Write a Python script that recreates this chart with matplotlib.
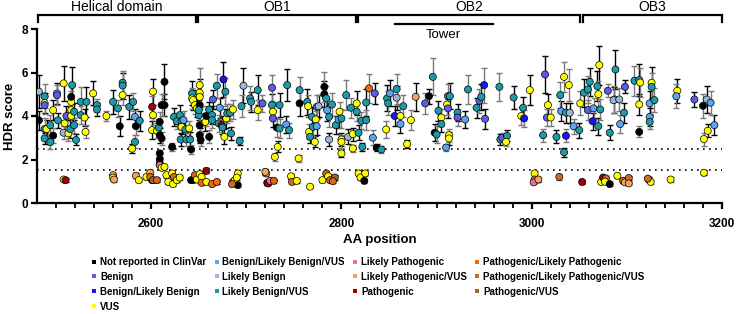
import numpy as np
import matplotlib
matplotlib.use('Agg')
from matplotlib import pyplot as plt
from matplotlib.lines import Line2D
import matplotlib.transforms as mtransforms

plt.rcParams['font.family'] = ['Liberation Sans', 'DejaVu Sans']

# variant classes: code -> (legend label, colour)
classes = ['NR', 'B', 'BLB', 'VUS', 'BLBV', 'LB', 'LBV', 'LP', 'LPV', 'P', 'PLP', 'PLPV', 'PV']
labels = ['Not reported in ClinVar', 'Benign', 'Benign/Likely Benign', 'VUS',
          'Benign/Likely Benign/VUS', 'Likely Benign', 'Likely Benign/VUS',
          'Likely Pathogenic', 'Likely Pathogenic/VUS', 'Pathogenic',
          'Pathogenic/Likely Pathogenic', 'Pathogenic/Likely Pathogenic/VUS', 'Pathogenic/VUS']
colors = ['#000000', '#5c5ce8', '#1414ff', '#ffff00',
          '#5aa5f0', '#9db4dc', '#1b9aaa',
          '#f06aa8', '#f5a55a', '#a50000',
          '#f5650f', '#d2691e', '#9c6a2e']

# domains along the top
domains = ['Helical domain', 'OB1', 'OB2', 'OB3']
domain_start = [2481, 2649, 2817, 3054]
domain_end = [2647, 2815, 3051, 3200]
tower = (2856, 2959)

# variants: AA position, HDR score, error, class
pos = [2482, 2488, 2488, 2488, 2482, 2488, 2488, 2494, 2490, 2494, 2497, 2497, 2501, 2501, 2502,
       2508, 2508, 2509, 2511, 2513, 2515, 2516, 2516, 2516, 2517, 2516, 2519, 2519, 2521, 2526,
       2532, 2526, 2530, 2531, 2539, 2543, 2543, 2553, 2560, 2565, 2567, 2570, 2570, 2570, 2577,
       2581, 2583, 2584, 2588, 2583, 2580,
       2508, 2510, 2560, 2560, 2561, 2584, 2587, 2595, 2599, 2601,
       2601, 2602, 2602, 2601, 2606, 2608, 2609, 2609, 2611, 2614, 2611, 2614, 2609, 2609, 2609,
       2609, 2611, 2614, 2622, 2624, 2627, 2630, 2632, 2632, 2634, 2631, 2637, 2641, 2642, 2636,
       2640, 2643, 2643, 2644, 2646, 2648, 2651, 2651, 2651, 2651, 2650, 2650, 2651, 2651, 2652,
       2657, 2658, 2661, 2661, 2664, 2664, 2665, 2669, 2672, 2671, 2674, 2675, 2676, 2678, 2679,
       2680, 2677, 2683, 2684, 2686, 2693, 2695, 2697, 2704, 2705, 2712, 2712, 2717,
       2599, 2602, 2606, 2616, 2622, 2624, 2618, 2623, 2627, 2630, 2642, 2644, 2646, 2648, 2651,
       2653, 2658, 2653, 2658, 2664, 2669, 2686, 2688, 2691, 2690, 2691, 2685, 2721, 2722,
       2727, 2727, 2728, 2728, 2732, 2735, 2735, 2733, 2730, 2742, 2745, 2743, 2755, 2756, 2756,
       2764, 2765, 2769, 2766, 2767, 2770, 2772, 2773, 2774, 2774, 2776, 2782, 2782, 2784, 2785,
       2787, 2787, 2790, 2794, 2798, 2797, 2800, 2800, 2800, 2800, 2805, 2807, 2810, 2812, 2812,
       2816, 2816, 2818, 2821, 2822, 2826, 2826, 2829, 2835, 2833, 2837, 2842,
       2720, 2723, 2725, 2729, 2747, 2748, 2753, 2767, 2780, 2784, 2786, 2788, 2793, 2791, 2818,
       2820, 2824, 2825,
       2848, 2849, 2851, 2847, 2856, 2858, 2858, 2862, 2862, 2865, 2869, 2873, 2878, 2888, 2892,
       2896, 2898, 2900, 2902, 2905, 2905, 2911, 2912, 2912, 2914, 2913, 2913, 2910, 2922, 2922,
       2930, 2933, 2942, 2945, 2947, 2950, 2951,
       2966, 2967, 2969, 2974, 2973, 2981, 2989, 2991, 2992, 2998, 3012, 3014, 3016, 3017, 3020,
       3026, 3030, 3031, 3034, 3036, 3036, 3034, 3039, 3040, 3044, 3050, 3051, 3055, 3059, 3061,
       3059, 3064, 3065, 3069, 3070, 3071, 3072, 3070, 3080, 3082, 3087, 3088,
       3003, 3003, 3002, 3007, 3029, 3053, 3073, 3075, 3078, 3077, 3082,
       3086, 3092, 3097, 3093, 3098, 3108, 3113, 3114, 3113, 3113, 3126, 3126, 3124, 3129, 3124,
       3124, 3153, 3152, 3171, 3180, 3184, 3188, 3185, 3181, 3192,
       3090, 3096, 3098, 3102, 3102, 3123, 3125, 3122, 3146, 3181]

hdr = [5.12, 4.90, 4.60, 4.50, 3.80, 3.40, 2.97, 2.80, 3.40, 3.58, 4.27, 3.10, 5.04, 4.96, 3.80,
       3.23, 5.50, 3.66, 4.00, 3.20, 3.40, 4.65, 4.27, 4.00, 5.42, 4.88, 4.20, 3.58, 2.90, 4.65,
       4.65, 4.04, 3.93, 3.27, 5.04, 4.50, 4.30, 4.00, 4.65, 4.35, 3.53, 5.53, 5.40, 4.96, 4.42,
       4.65, 3.96, 3.53, 3.78, 2.81, 2.50,
       1.08, 1.05, 1.28, 1.17, 1.08, 1.25, 1.05, 1.20, 1.39, 1.05,
       4.42, 5.12, 4.04, 3.35, 3.32, 3.47, 3.73, 3.12, 2.97, 5.57, 4.50, 4.50, 2.28, 2.00, 1.79,
       1.74, 1.62, 1.66, 2.58, 3.96, 3.76, 4.04, 3.76, 3.50, 3.81, 2.92, 2.92, 2.92, 2.46, 3.38,
       3.43, 5.04, 4.81, 4.73, 4.50, 4.35, 5.42, 5.07, 4.88, 4.50, 4.04, 4.27, 3.58, 3.12, 2.90,
       3.73, 4.00, 4.30, 3.04, 4.04, 3.81, 4.76, 5.39, 4.38, 3.66, 3.58, 3.47, 5.68, 5.12, 3.89,
       4.12, 3.04, 4.15, 3.20, 4.30, 2.85, 4.45, 5.39, 4.81, 4.65, 4.27, 5.19, 4.58,
       1.20, 1.05, 1.05, 1.28, 1.36, 1.20, 0.97, 0.87, 1.05, 1.17, 1.05, 1.05, 1.28, 1.08, 1.33,
       1.20, 1.48, 0.93, 0.97, 0.87, 0.97, 0.97, 1.05, 1.36, 1.17, 0.82, 0.87, 1.36, 0.93,
       5.30, 4.50, 4.20, 3.89, 3.47, 4.50, 3.43, 2.58, 2.12, 3.61, 3.35, 5.42, 2.05, 4.58, 5.19,
       4.65, 4.45, 3.96, 3.27, 3.04, 3.50, 2.81, 3.84, 3.53, 4.42, 4.45, 5.34, 5.00, 4.81, 4.27,
       3.96, 2.92, 4.53, 3.58, 4.20, 3.84, 3.89, 2.92, 2.81, 2.28, 4.96, 3.04, 4.38, 3.17, 2.51,
       4.58, 4.20, 3.23, 3.78, 2.58, 3.81, 4.62, 5.27, 5.04, 3.00, 2.54, 2.46,
       1.43, 0.90, 1.02, 1.02, 1.23, 0.97, 1.02, 0.75, 1.05, 1.36, 1.23, 1.05, 1.17, 1.00, 1.36,
       1.17, 1.02, 1.36,
       4.81, 4.58, 5.04, 3.38, 4.00, 5.24, 4.84, 4.00, 3.63, 4.45, 2.71, 3.81, 4.88, 4.58, 4.91,
       5.80, 3.23, 3.15, 4.24, 3.93, 3.63, 4.53, 4.35, 4.91, 4.91, 3.12, 2.97, 2.55, 4.15, 3.93,
       3.84, 5.22, 4.38, 4.70, 4.88, 5.42, 3.87,
       5.34, 2.92, 3.00, 3.09, 2.81, 4.85, 4.00, 4.38, 3.89, 5.19, 3.12, 5.91, 3.93, 4.50, 3.93,
       3.04, 4.96, 4.22, 5.80, 4.15, 3.09, 2.33, 5.42, 4.15, 3.53, 3.35, 4.58, 5.07, 5.22, 5.57,
       4.27, 3.76, 4.35, 5.37, 5.00, 6.34, 4.30, 3.53, 5.16, 3.23, 4.76, 6.14,
       1.36, 1.08, 0.95, 1.08, 1.20, 0.97, 0.97, 1.17, 1.13, 0.98, 0.87,
       4.73, 4.76, 4.15, 3.63, 5.34, 5.62, 5.65, 5.54, 4.53, 3.27, 5.53, 5.34, 4.58, 4.73, 3.96,
       3.73, 5.16, 4.91, 4.76, 4.47, 4.76, 4.61, 3.32, 2.94, 3.58,
       1.25, 1.02, 0.95, 1.15, 0.90, 1.08, 0.97, 1.12, 1.08, 1.39]

err = [0.75, 0.55, 0.45, 0.40, 0.45, 0.50, 0.25, 0.30, 0.40, 0.45, 0.45, 0.35, 0.50, 0.45, 0.35,
       0.30, 0.80, 0.40, 0.45, 0.35, 0.40, 0.50, 0.45, 0.40, 0.85, 0.55, 0.40, 0.35, 0.25, 0.70,
       0.70, 0.40, 0.40, 0.30, 0.55, 0.30, 0.30, 0.25, 0.55, 0.40, 0.45, 0.55, 0.60, 0.45, 0.55,
       0.40, 0.35, 0.40, 0.45, 0.30, 0.20,
       0.08, 0.08, 0.12, 0.10, 0.10, 0.12, 0.10, 0.10, 0.15, 0.10,
       0.50, 0.60, 0.45, 0.40, 0.35, 0.40, 0.45, 0.35, 0.30, 0.80, 0.50, 0.50, 0.15, 0.12, 0.10,
       0.10, 0.10, 0.10, 0.20, 0.40, 0.35, 0.45, 0.40, 0.35, 0.40, 0.30, 0.30, 0.35, 0.20, 0.40,
       0.35, 0.55, 0.50, 0.45, 0.40, 0.40, 0.80, 0.65, 0.55, 0.45, 0.40, 0.45, 0.40, 0.35, 0.30,
       0.40, 0.45, 0.35, 0.30, 0.40, 0.35, 0.45, 0.55, 0.45, 0.40, 0.40, 0.35, 0.80, 0.65, 0.45,
       0.45, 0.35, 0.40, 0.30, 0.45, 0.20, 0.50, 0.80, 0.55, 0.45, 0.45, 0.70, 0.40,
       0.12, 0.10, 0.10, 0.12, 0.12, 0.10, 0.08, 0.08, 0.10, 0.10, 0.08, 0.08, 0.12, 0.10, 0.12,
       0.10, 0.12, 0.08, 0.08, 0.08, 0.08, 0.08, 0.10, 0.15, 0.10, 0.08, 0.08, 0.12, 0.08,
       0.60, 0.50, 0.45, 0.40, 0.45, 0.55, 0.45, 0.25, 0.20, 0.40, 0.35, 0.75, 0.15, 0.60, 0.60,
       0.60, 0.50, 0.45, 0.35, 0.30, 0.40, 0.25, 0.40, 0.40, 0.55, 0.50, 0.70, 0.60, 0.55, 0.50,
       0.45, 0.30, 0.55, 0.40, 0.45, 0.40, 0.45, 0.30, 0.30, 0.15, 0.70, 0.35, 0.45, 0.30, 0.15,
       0.55, 0.45, 0.35, 0.40, 0.20, 0.45, 0.60, 0.65, 0.50, 0.35, 0.15, 0.15,
       0.12, 0.08, 0.08, 0.10, 0.12, 0.08, 0.08, 0.06, 0.08, 0.12, 0.10, 0.10, 0.10, 0.08, 0.12,
       0.10, 0.08, 0.12,
       0.60, 0.55, 0.60, 0.40, 0.45, 0.70, 0.55, 0.45, 0.40, 0.50, 0.20, 0.45, 0.65, 0.50, 0.35,
       0.85, 0.40, 0.40, 0.45, 0.40, 0.35, 0.50, 0.45, 0.55, 0.60, 0.30, 0.30, 0.15, 0.40, 0.40,
       0.40, 0.65, 0.45, 0.55, 0.60, 0.80, 0.45,
       0.65, 0.25, 0.20, 0.25, 0.20, 0.55, 0.40, 0.50, 0.40, 0.70, 0.30, 0.85, 0.40, 0.50, 0.40,
       0.30, 0.60, 0.45, 0.70, 0.45, 0.30, 0.20, 0.75, 0.45, 0.35, 0.35, 0.55, 0.65, 0.60, 0.65,
       0.45, 0.40, 0.50, 0.70, 0.60, 0.90, 0.50, 0.40, 0.30, 0.35, 0.60, 0.90,
       0.12, 0.10, 0.08, 0.10, 0.12, 0.10, 0.08, 0.10, 0.10, 0.08, 0.08,
       0.60, 0.55, 0.45, 0.40, 0.30, 0.70, 0.75, 0.65, 0.50, 0.25, 0.70, 0.65, 0.55, 0.55, 0.40,
       0.35, 0.55, 0.55, 0.35, 0.55, 0.60, 0.55, 0.30, 0.30, 0.45,
       0.12, 0.10, 0.08, 0.10, 0.08, 0.10, 0.08, 0.08, 0.10, 0.12]

cls = ['LB', 'LBV', 'VUS', 'B', 'NR', 'LBV', 'LBV', 'LBV', 'VUS', 'LBV', 'VUS', 'NR', 'LB', 'B', 'LBV',
       'LB', 'VUS', 'VUS', 'B', 'VUS', 'LBV', 'VUS', 'VUS', 'VUS', 'LBV', 'NR', 'LBV', 'LBV', 'LBV', 'LBV',
       'LBV', 'LBV', 'VUS', 'VUS', 'VUS', 'LBV', 'LBV', 'VUS', 'LBV', 'LBV', 'NR', 'LBV', 'LBV', 'VUS', 'LBV',
       'LBV', 'BLBV', 'NR', 'LBV', 'LBV', 'VUS',
       'VUS', 'P', 'LPV', 'VUS', 'LPV', 'LPV', 'VUS', 'VUS', 'LPV', 'PV',
       'P', 'VUS', 'VUS', 'VUS', 'VUS', 'LBV', 'NR', 'NR', 'NR', 'NR', 'NR', 'NR', 'NR', 'NR', 'NR',
       'LP', 'VUS', 'VUS', 'NR', 'LBV', 'LBV', 'LBV', 'LBV', 'VUS', 'BLBV', 'LBV', 'LBV', 'LBV', 'NR', 'LBV',
       'VUS', 'LBV', 'VUS', 'VUS', 'VUS', 'VUS', 'VUS', 'VUS', 'VUS', 'NR', 'LBV', 'LBV', 'NR', 'NR', 'NR',
       'VUS', 'NR', 'LBV', 'NR', 'LBV', 'LBV', 'B', 'LBV', 'BLBV', 'LBV', 'P', 'LBV', 'BLB', 'LBV', 'VUS',
       'LBV', 'VUS', 'LBV', 'LBV', 'VUS', 'LBV', 'LBV', 'LB', 'LBV', 'LBV', 'VUS', 'LBV', 'B',
       'PLPV', 'PV', 'PLPV', 'VUS', 'VUS', 'PLPV', 'VUS', 'VUS', 'VUS', 'VUS', 'NR', 'NR', 'PLPV', 'VUS', 'VUS',
       'VUS', 'P', 'PLP', 'VUS', 'PLP', 'PLP', 'PLP', 'VUS', 'VUS', 'VUS', 'NR', 'PLPV', 'LPV', 'P',
       'B', 'LBV', 'VUS', 'B', 'NR', 'LBV', 'LBV', 'VUS', 'VUS', 'BLBV', 'LBV', 'LBV', 'VUS', 'NR', 'LBV',
       'LBV', 'VUS', 'LBV', 'VUS', 'LBV', 'LBV', 'VUS', 'VUS', 'BLBV', 'LBV', 'LB', 'NR', 'NR', 'LBV', 'BLBV',
       'LBV', 'LB', 'LBV', 'LBV', 'VUS', 'BLBV', 'LBV', 'VUS', 'VUS', 'VUS', 'LBV', 'LB', 'LBV', 'VUS', 'VUS',
       'VUS', 'LBV', 'LBV', 'LBV', 'LBV', 'LBV', 'LBV', 'PLP', 'B', 'BLBV', 'NR', 'LBV',
       'LPV', 'P', 'LP', 'PLPV', 'VUS', 'PLPV', 'VUS', 'VUS', 'VUS', 'PLPV', 'VUS', 'PLPV', 'PV', 'PLPV', 'VUS',
       'VUS', 'NR', 'VUS',
       'LBV', 'LBV', 'BLBV', 'VUS', 'BLB', 'LBV', 'LB', 'VUS', 'BLBV', 'LBV', 'VUS', 'VUS', 'LPV', 'B', 'NR',
       'LBV', 'NR', 'LBV', 'LBV', 'VUS', 'LBV', 'VUS', 'B', 'LBV', 'LBV', 'VUS', 'VUS', 'BLBV', 'LBV', 'B',
       'BLBV', 'LBV', 'LBV', 'B', 'LBV', 'BLB', 'B',
       'LBV', 'LBV', 'B', 'LBV', 'VUS', 'LBV', 'VUS', 'LBV', 'BLB', 'VUS', 'LBV', 'B', 'B', 'VUS', 'VUS',
       'LBV', 'LBV', 'BLBV', 'VUS', 'LBV', 'BLB', 'LBV', 'VUS', 'LB', 'BLBV', 'LBV', 'VUS', 'LBV', 'LBV', 'LBV',
       'B', 'BLB', 'BLBV', 'LBV', 'VUS', 'VUS', 'LBV', 'LBV', 'B', 'LBV', 'LB', 'LBV',
       'VUS', 'PLP', 'LP', 'LPV', 'PLPV', 'P', 'VUS', 'P', 'PLPV', 'VUS', 'NR',
       'LB', 'LB', 'LBV', 'BLBV', 'B', 'LBV', 'LBV', 'VUS', 'VUS', 'NR', 'VUS', 'LBV', 'BLBV', 'LBV', 'BLBV',
       'LBV', 'VUS', 'BLBV', 'B', 'NR', 'LB', 'BLBV', 'VUS', 'VUS', 'BLBV',
       'VUS', 'PLPV', 'LPV', 'PLPV', 'LPV', 'VUS', 'VUS', 'PLPV', 'VUS', 'VUS']


def main():
    x = np.array(pos, dtype=float)
    y = np.array(hdr)
    e = np.array(err)
    cmap = dict(zip(classes, colors))
    point_colors = [cmap[c] for c in cls]

    fig = plt.figure(figsize=(7.38, 3.14), dpi=100)
    ax = fig.add_axes([37 / 738, 111 / 314, 685 / 738, 174 / 314])

    # error bars, alternating black / grey like the original replicate sets
    idx = np.arange(len(x))
    for mask, ec in [(idx % 2 == 0, 'black'), (idx % 2 == 1, '#7a7a7a')]:
        ax.errorbar(x[mask], y[mask], yerr=e[mask], fmt='none', ecolor=ec,
                    elinewidth=1.0, capsize=2.3, capthick=1.0, zorder=2)
    ax.scatter(x, y, s=26, c=point_colors, edgecolors='black', linewidths=0.5, zorder=3)

    for thr in (2.5, 1.5):
        ax.axhline(thr, color='black', lw=1.2, dashes=(1, 2.6), zorder=1)

    ax.set_xlim(2480, 3200)
    ax.set_ylim(0, 8)
    ax.set_xticks([2600, 2800, 3000, 3200])
    ax.set_xticks(np.arange(2500, 3200, 20), minor=True)
    ax.set_yticks([0, 2, 4, 6, 8])
    for s in ('top', 'right'):
        ax.spines[s].set_visible(False)
    for s in ('left', 'bottom'):
        ax.spines[s].set_linewidth(1.6)
    ax.tick_params(which='major', length=4.5, width=1.6, labelsize=8.5, pad=2)
    ax.tick_params(which='minor', length=3.5, width=1.3)
    ax.tick_params(axis='x', pad=6)
    for lab in ax.get_xticklabels() + ax.get_yticklabels():
        lab.set_fontweight('bold')
    ax.set_xlabel('AA position', fontsize=9.5, fontweight='bold', labelpad=3)
    ax.set_ylabel('HDR score', fontsize=9.5, fontweight='bold', labelpad=4)

    # domain brackets above the axes
    trans = mtransforms.blended_transform_factory(ax.transData, ax.transAxes)
    for name, a, b in zip(domains, domain_start, domain_end):
        ax.plot([a, a, b, b], [1.04, 1.08, 1.08, 1.04], color='black', lw=1.6,
                transform=trans, clip_on=False, solid_joinstyle='miter')
        ax.text((a + b) / 2, 1.088, name, transform=trans, ha='center', va='bottom',
                fontsize=10)
    ax.plot(tower, [1.029, 1.029], color='black', lw=1.6, transform=trans, clip_on=False)
    ax.text(sum(tower) / 2, 1.0, 'Tower', transform=trans, ha='center', va='top', fontsize=9.5)

    handles = [Line2D([], [], ls='none', marker='s', markersize=3.2, color=c, markeredgewidth=0)
               for c in colors]
    fig.legend(handles, labels, loc='upper left', bbox_to_anchor=(92 / 738, 1 - 257 / 314),
               ncol=4, frameon=False, handlelength=0.5, handletextpad=0.35,
               columnspacing=0.8, labelspacing=0.5, borderpad=0, borderaxespad=0,
               prop={'size': 7, 'weight': 'bold'})

    fig.savefig('out.png', dpi=100)


if __name__ == '__main__':
    main()
